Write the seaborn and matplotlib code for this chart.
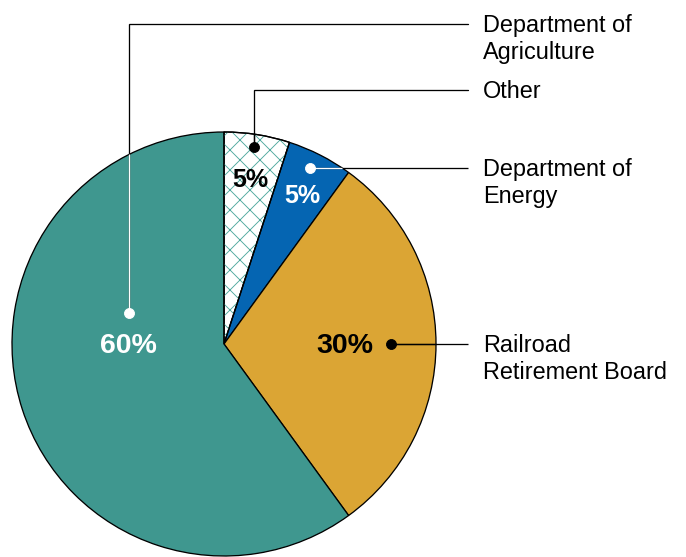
import numpy as np
import matplotlib
matplotlib.use("Agg")
import matplotlib.pyplot as plt
from matplotlib.patches import Wedge
import seaborn as sns

# ---- data ----
categories = ["Other", "Department of Energy", "Railroad Retirement Board", "Department of Agriculture"]
values = [5, 5, 30, 60]
pct_labels = ["5%", "5%", "30%", "60%"]
label_texts = ["Other", "Department of\nEnergy", "Railroad\nRetirement Board", "Department of\nAgriculture"]
colors = ["#ffffff", "#0565b2", "#dba534", "#3f978f"]
pct_colors = ["black", "white", "black", "white"]
hatch_color = "#4fa89e"

W, H, DPI = 686, 557, 60


def pt(px):
    return px * 72.0 / DPI


sns.set_theme(style="white")
plt.rcParams["font.family"] = ["Liberation Sans", "DejaVu Sans"]
plt.rcParams["hatch.linewidth"] = pt(0.9)

fig = plt.figure(figsize=(W / DPI, H / DPI), dpi=DPI)
ax = fig.add_axes([0, 0, 1, 1])


def Y(y):
    return H - y


cx, cy, R = 224, Y(344), 212
edge_lw = pt(1.3)
wedges, _ = ax.pie(values, colors=colors, startangle=90, counterclock=False,
                   center=(cx, cy), radius=R,
                   wedgeprops=dict(edgecolor="black", linewidth=edge_lw))

# hatch overlay for "Other"
w0 = wedges[0]
ax.add_patch(Wedge((cx, cy), R, w0.theta1, w0.theta2, facecolor="none",
                   edgecolor=hatch_color, linewidth=0, hatch="x",
                   zorder=w0.get_zorder() + 0.1))
ax.add_patch(Wedge((cx, cy), R, w0.theta1, w0.theta2, facecolor="none",
                   edgecolor="black", linewidth=edge_lw, zorder=w0.get_zorder() + 0.2))

# percentage labels (angle deg, radius fraction, font px)
pct_pos = [(81.0, 0.795, 25), (62.3, 0.80, 25), (0, 0.57, 28.5), (180, 0.45, 28.5)]
for txt, col, (ang, rf, fs) in zip(pct_labels, pct_colors, pct_pos):
    a = np.deg2rad(ang)
    ax.text(cx + rf * R * np.cos(a), cy + rf * R * np.sin(a) - 2, txt, color=col,
            fontsize=pt(fs), fontweight="bold", ha="center", va="center", zorder=5)

# leader lines: dot (angle, rf), label line y
text_x = 483
line_end = 468
lw = pt(1.3)
fs_lab = 23.5
line_gap = 26.5
dot_specs = [(81.3, 0.94), (64.0, 0.925), (0, 0.79), (162, 0.47)]
label_y = [90, 168, 344, 24]
inside_col = ["black", "white", "black", "white"]

for (ang, rf), ly, icol, lab in zip(dot_specs, label_y, inside_col, label_texts):
    a = np.deg2rad(ang)
    dx, dy = cx + rf * R * np.cos(a), cy + rf * R * np.sin(a)
    ty = Y(ly)
    if abs(dy - ty) < 1:
        xs_edge = cx + np.sqrt(R**2 - (ty - cy) ** 2)
        ax.plot([dx, line_end], [ty, ty], color="black", lw=lw, zorder=6, solid_capstyle="butt")
        ax.plot([dx, min(xs_edge, line_end)], [ty, ty], color=icol, lw=lw, zorder=6.5,
                solid_capstyle="butt")
    else:
        ye = cy + np.sqrt(R**2 - (dx - cx) ** 2)
        ax.plot([dx, dx, line_end], [dy, ty, ty], color="black", lw=lw, zorder=6,
                solid_joinstyle="miter")
        ax.plot([dx, dx], [dy, ye], color=icol, lw=lw, zorder=6.5, solid_capstyle="butt")
    ax.plot(dx, dy, "o", color=icol, markersize=pt(10), zorder=7)
    cap_half = 0.716 * fs_lab / 2
    for i, line in enumerate(lab.split("\n")):
        ax.text(text_x, ty - cap_half - i * line_gap, line, fontsize=pt(fs_lab),
                ha="left", va="baseline", color="black", zorder=7)

ax.set_xlim(0, W)
ax.set_ylim(0, H)
ax.set_aspect("equal")
ax.axis("off")
fig.savefig("out.png", dpi=DPI, facecolor="white")
